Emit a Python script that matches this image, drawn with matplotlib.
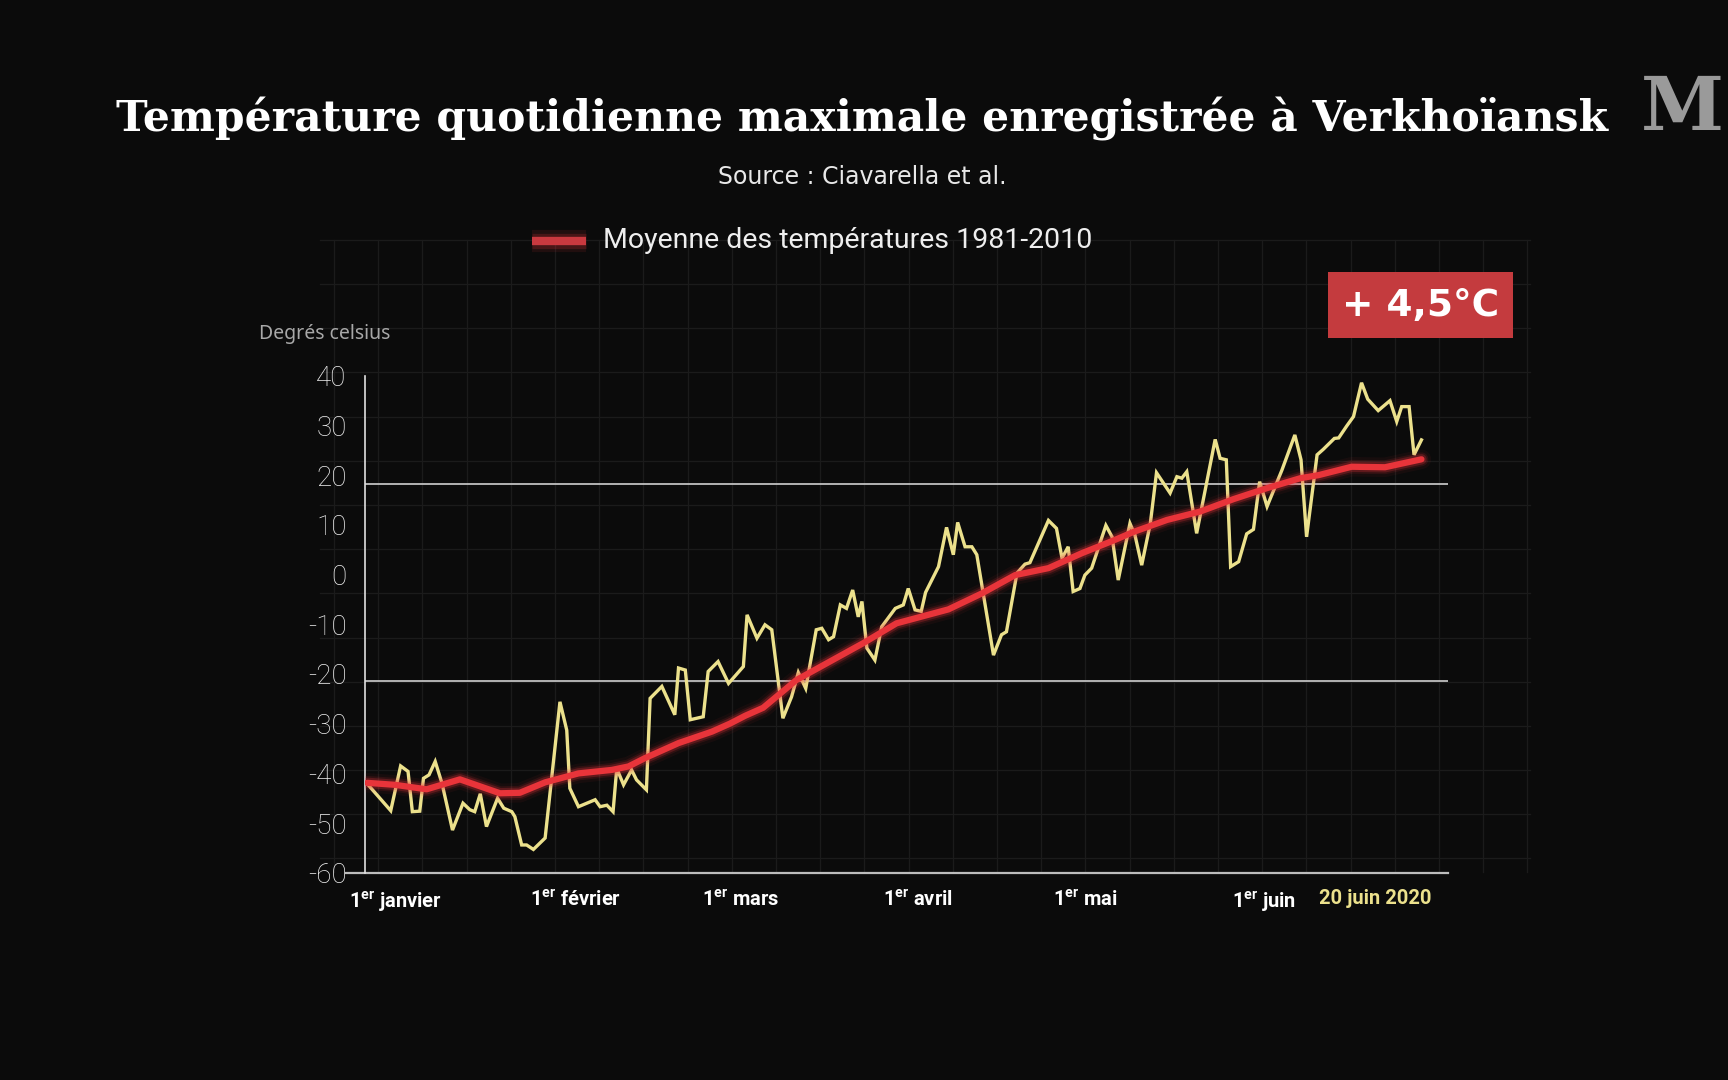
import numpy as np
import matplotlib.pyplot as plt
from matplotlib.patches import Rectangle

# daily max temperature at Verkhoyansk, 2020 (vertices, day 0 = 1 Jan)
yellow_day = [0.4, 4.2, 5.8, 7.0, 7.7, 8.9, 9.5, 10.4, 11.4, 12.5, 14.2, 15.9, 17.0, 17.8,
              18.7, 19.7, 21.5, 22.5, 23.8, 24.3, 25.4, 26.2, 27.3, 29.2, 31.6, 32.7, 33.2,
              34.6, 37.3, 38.1, 39.2, 40.2, 40.8, 41.9, 43.2, 44.0, 45.6, 46.2, 48.1, 50.2,
              50.8, 51.9, 52.7, 54.8, 55.6, 57.2, 58.9, 61.3, 61.9, 63.5, 64.8, 65.9, 67.7,
              69.1, 70.2, 71.4, 73.1, 74.0, 75.1, 75.9, 77.0, 78.0, 79.0, 79.9, 80.5, 81.3,
              82.6, 83.7, 85.9, 87.2, 88.0, 89.1, 90.1, 90.8, 92.1, 92.9, 94.2, 95.3, 96.0,
              97.2, 98.3, 99.1, 101.8, 103.1, 103.9, 105.6, 106.9, 107.7, 110.7, 112.0, 112.9,
              113.9, 114.7, 115.8, 116.6, 117.7, 120.0, 121.0, 122.0, 123.9, 124.7, 125.8,
              127.2, 128.2, 130.4, 131.5, 132.3, 133.1, 134.7, 137.7, 138.5, 139.5, 140.2,
              141.5, 142.8, 143.9, 144.9, 146.1, 148.5, 150.6, 151.6, 152.5, 154.2, 155.2,
              157.0, 157.7, 159.0, 160.1, 161.4, 162.4, 164.1, 166.0, 167.1, 167.9, 169.1,
              169.9, 171.1]
yellow_temp = [-42.1, -47.5, -38.5, -39.6, -47.7, -47.6, -41.0, -40.3, -37.6, -42.0, -51.4,
               -46.0, -47.3, -47.7, -44.1, -50.7, -45.0, -47.0, -47.7, -48.7, -54.4, -54.4,
               -55.3, -53.0, -25.6, -31.3, -43.0, -46.7, -45.3, -46.7, -46.4, -47.7, -39.0,
               -42.3, -39.3, -41.3, -43.3, -24.9, -22.5, -28.2, -18.8, -19.2, -29.2, -28.6,
               -19.5, -17.5, -21.9, -18.5, -8.1, -12.8, -10.1, -11.1, -28.9, -24.6, -19.7,
               -22.9, -11.1, -10.8, -13.1, -12.5, -6.1, -6.8, -3.1, -8.5, -5.4, -14.8, -17.2,
               -10.5, -6.8, -6.1, -2.8, -7.1, -7.4, -3.6, -0.4, 1.6, 9.5, 4.0, 10.5, 5.6, 5.6,
               4.0, -16.2, -12.1, -11.5, 0.3, 2.1, 2.4, 10.9, 9.3, 3.3, 5.6, -3.4, -2.8, -0.1,
               1.3, 9.9, 7.6, -1.1, 10.3, 8.0, 1.9, 10.3, 20.5, 16.4, 19.7, 19.4, 20.7, 8.3,
               27.2, 23.4, 23.1, 1.6, 2.6, 8.2, 9.1, 18.7, 13.7, 21.0, 28.1, 23.1, 7.6, 24.1,
               25.2, 27.4, 27.5, 29.9, 31.8, 38.6, 35.3, 33.0, 35.0, 30.8, 33.8, 33.8, 24.1,
               27.1]

# 1981-2010 mean
mean_day = [0.4, 4.9, 10.0, 15.4, 21.9, 25.1, 29.2, 31.6, 34.6, 40.0, 42.7, 45.4, 50.8,
            56.2, 59.1, 61.6, 64.5, 69.9, 75.3, 80.7, 86.1, 89.1, 94.5, 99.9, 105.3, 110.7,
            116.1, 121.5, 124.5, 129.9, 135.3, 140.7, 146.1, 151.5, 154.4, 159.8, 165.2, 171.1]
mean_temp = [-41.9, -42.3, -43.2, -41.2, -44.0, -43.9, -41.8, -41.0, -40.0, -39.3, -38.6,
             -36.9, -33.9, -31.6, -30.0, -28.4, -26.8, -21.2, -17.5, -13.8, -9.8, -8.8, -7.0,
             -3.8, -0.1, 1.3, 4.3, 7.0, 8.6, 11.0, 12.7, 15.2, 17.4, 19.4, 20.0, 21.7, 21.6,
             23.2]

ref_lines = [18.3, -21.4]
yticks = list(range(-60, 41, 10))
xtick_pos = [5.0, 34.1, 60.9, 89.6, 116.7, 145.6, 163.7]
xtick_lab = [r'1$^{\mathregular{er}}$ janvier', r'1$^{\mathregular{er}}$ février',
             r'1$^{\mathregular{er}}$ mars', r'1$^{\mathregular{er}}$ avril',
             r'1$^{\mathregular{er}}$ mai', r'1$^{\mathregular{er}}$ juin', '20 juin 2020']

BG = '#0b0b0b'
YEL = '#ece18c'
RED = '#e8343a'
sans = ['Roboto', 'DejaVu Sans']

fig = plt.figure(figsize=(17.28, 10.8), dpi=100, facecolor=BG)

# background layer in pixel coords (grid, texts)
bg = fig.add_axes([0, 0, 1, 1])
bg.set_xlim(0, 1728)
bg.set_ylim(1080, 0)
bg.axis('off')
for gx in np.arange(555 - 44.2 * 5, 1540, 44.2):
    bg.plot([gx, gx], [240, 872], color='#1b1b1b', lw=0.9, zorder=0)
for gy in np.arange(681.7 - 44.2 * 10, 872, 44.2):
    if gy > 235:
        bg.plot([320, 1530], [gy, gy], color='#1b1b1b', lw=0.9, zorder=0)

bg.text(862, 119, 'Température quotidienne maximale enregistrée à Verkhoïansk',
        ha='center', va='center', color='white', fontsize=30.6, fontweight='bold',
        family='DejaVu Serif')
bg.text(862, 177, 'Source : Ciavarella et al.', ha='center', va='center', color='#e8e8e8',
        fontsize=17, family='DejaVu Sans')

# legend
for w, a in [(16, 0.10), (11, 0.2)]:
    bg.plot([532, 586], [241, 241], color=RED, lw=w, alpha=a, solid_capstyle='butt')
bg.plot([532, 586], [241, 241], color='#c9393f', lw=6, solid_capstyle='butt')
bg.text(603, 241, 'Moyenne des températures 1981-2010', ha='left', va='center',
        color='#eeeeee', fontsize=20.5, family=sans)

# badge
bg.add_patch(Rectangle((1328, 272), 185, 66, facecolor='#c43b3e', edgecolor='none'))
bg.text(1420.5, 306, '+ 4,5°C', ha='center', va='center', color='white', fontsize=27,
        fontweight='bold', family='DejaVu Sans')

# logo
bg.text(1724, 110, 'M', ha='right', va='center', color='#9a9a9a', fontsize=54,
        fontweight='bold', family='DejaVu Serif')

bg.text(259, 334, 'Degrés celsius', ha='left', va='center', color='#a8a8a8', fontsize=14,
        family=['Noto Sans', 'DejaVu Sans'])

ax = fig.add_axes([364.8 / 1728, 1 - 872.8 / 1080, (1448 - 364.8) / 1728, (872.8 - 375.8) / 1080])
ax.patch.set_alpha(0)
ax.set_xlim(0, 175.4)
ax.set_ylim(-60, 40)

for v in ref_lines:
    ax.axhline(v, color='#cfcfcf', lw=1.2, zorder=1)

ax.plot(yellow_day, yellow_temp, color=YEL, lw=2.4, zorder=3, solid_joinstyle='miter')
for w, a in [(14, 0.06), (10, 0.12), (7.5, 0.25)]:
    ax.plot(mean_day, mean_temp, color=RED, lw=w, alpha=a, zorder=4, solid_capstyle='round')
ax.plot(mean_day, mean_temp, color=RED, lw=4.5, zorder=5, solid_capstyle='round')

for s in ['top', 'right']:
    ax.spines[s].set_visible(False)
ax.spines['left'].set_color('#e0e0e0')
ax.spines['left'].set_linewidth(1.2)
ax.spines['bottom'].set_visible(False)
ax.plot([-0.017, 1], [0, 0], transform=ax.transAxes, clip_on=False, color='#bdbdbd', lw=1.6)

ax.set_yticks(yticks)
ax.set_yticklabels([str(v) for v in yticks])
ax.tick_params(axis='y', length=0, pad=13, labelsize=20, labelcolor='#f2f2f2')
for lbl in ax.get_yticklabels():
    lbl.set_family(sans)
    lbl.set_fontweight('light')

ax.set_xticks(xtick_pos)
ax.set_xticklabels(xtick_lab)
ax.tick_params(axis='x', length=0, pad=12, labelsize=14.5, labelcolor='white')
for lbl in ax.get_xticklabels():
    lbl.set_family(sans)
    lbl.set_fontweight('bold')
ax.get_xticklabels()[-1].set_color(YEL)

fig.savefig('out.png', dpi=100, facecolor=BG)
